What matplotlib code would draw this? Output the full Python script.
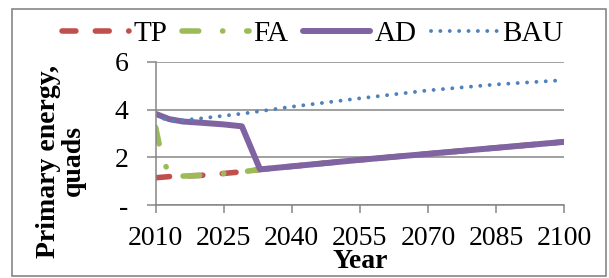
import matplotlib
matplotlib.use('Agg')
import matplotlib.pyplot as plt
from matplotlib.patches import Rectangle

# dati
years_tp = [2010, 2013, 2020, 2025, 2030, 2033, 2055, 2070, 2085, 2100]
tp = [1.15, 1.2, 1.25, 1.33, 1.42, 1.5, 1.9, 2.15, 2.4, 2.65]

years_fa = [2010, 2011, 2013, 2020, 2025, 2030, 2033, 2055, 2070, 2085, 2100]
fa = [3.25, 2.35, 1.2, 1.25, 1.33, 1.42, 1.5, 1.9, 2.15, 2.4, 2.65]

years_ad = [2010, 2013, 2016, 2020, 2025, 2029, 2033, 2055, 2070, 2085, 2100]
ad = [3.82, 3.6, 3.5, 3.45, 3.38, 3.3, 1.5, 1.9, 2.15, 2.4, 2.65]

years_bau = [2010, 2012, 2014, 2020, 2025, 2030, 2040, 2055, 2070, 2085, 2100]
bau = [3.8, 3.6, 3.52, 3.63, 3.74, 3.85, 4.12, 4.47, 4.8, 5.05, 5.23]

x_ticks = [2010, 2025, 2040, 2055, 2070, 2085, 2100]
y_ticks = [0, 2, 4, 6]
y_labels = ['-', '2', '4', '6']

plt.rcParams['font.family'] = ['Liberation Serif', 'DejaVu Serif']
grigio = '#868686'
fs = 20

fig = plt.figure(figsize=(6.09, 2.78), dpi=100)
ax = fig.add_axes([155.7 / 609, 1 - 205.3 / 278, (564 - 155.7) / 609, (205.3 - 61.7) / 278])

l_tp, = ax.plot(years_tp, tp, color='#C0504D', lw=4, dash_capstyle='round', label='TP')
l_tp.set_dashes((2.5, 3.5))
l_fa, = ax.plot(years_fa, fa, color='#9BBB59', lw=4, dash_capstyle='round', label='FA')
l_fa.set_dashes((3.0, 4.3, 0.05, 4.3))
ax.plot(years_ad, ad, color='#8064A2', lw=4.3, solid_capstyle='round', label='AD')
l_bau, = ax.plot(years_bau, bau, color='#4F81BD', lw=2.8, dash_capstyle='round', label='BAU')
l_bau.set_dashes((0.01, 2.4))

ax.set_xlim(2010, 2100)
ax.set_ylim(0, 6)
ax.set_xticks(x_ticks)
ax.set_yticks(y_ticks)
ax.set_yticklabels(y_labels)
ax.grid(axis='y', color=grigio, lw=1.1)
ax.set_axisbelow(True)
for s in ['top', 'right']:
    ax.spines[s].set_visible(False)
for s in ['left', 'bottom']:
    ax.spines[s].set_color(grigio)
    ax.spines[s].set_linewidth(1.1)
ax.tick_params(axis='x', direction='out', length=5.8, width=1.1, color=grigio, pad=9, labelsize=fs)
ax.tick_params(axis='y', direction='out', length=6.5, width=1.1, color=grigio, pad=13, labelsize=fs)

fig.text(61 / 609, 1 - 161 / 278, 'Primary energy,\nquads', rotation=90, ha='center', va='center',
         multialignment='center', fontsize=fs, fontweight='bold', linespacing=0.95)
fig.text(360 / 609, 1 - 262 / 278, 'Year', ha='center', va='center', fontsize=fs, fontweight='bold')

fig.legend(loc='center', bbox_to_anchor=(313 / 609, 1 - 34 / 278), ncol=4, frameon=False,
           fontsize=21, handlelength=2.3, handletextpad=0.15, columnspacing=0.5, borderaxespad=0)

fig.patches.append(Rectangle((12 / 609, 1 - 275.7 / 278), (606 - 12) / 609, (275.7 - 9) / 278,
                             transform=fig.transFigure, fill=False, edgecolor=grigio, lw=1.2))

plt.savefig('out.png', dpi=100)
